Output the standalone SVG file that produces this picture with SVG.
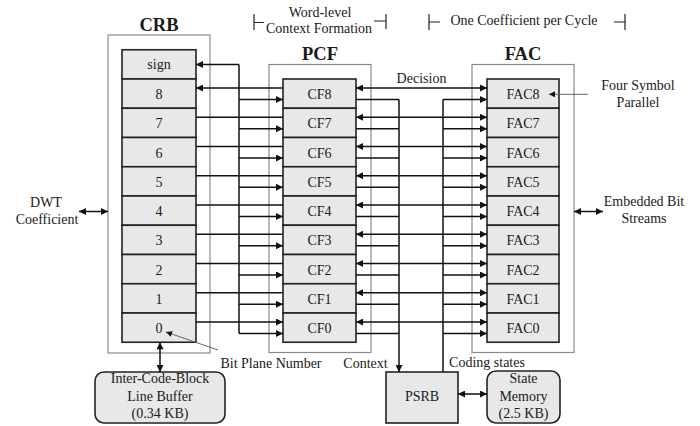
<svg xmlns="http://www.w3.org/2000/svg" width="700" height="426" viewBox="0 0 700 426">
<defs>
<style>
text{font-family:"Liberation Serif","Times New Roman",serif;fill:#1a1a1a;font-size:14px;text-anchor:middle}
.title{font-size:18.5px;font-weight:bold}
.outer{fill:none;stroke:#8a8a8a;stroke-width:1.2}
.cell{fill:#e8e8e8;stroke:#222;stroke-width:1.6}
.rbox{fill:#e8e8e8;stroke:#222;stroke-width:1.6}
.c{fill:none;stroke:#111;stroke-width:1.5}
.a2{marker-start:url(#ah);marker-end:url(#ah)}
.a1{marker-end:url(#ah)}
.note{fill:none;stroke:#666;stroke-width:1;marker-end:url(#sah)}
.br{fill:none;stroke:#222;stroke-width:1.2}
</style>
<marker id="ah" viewBox="0 0 10 10" refX="10" refY="5" markerWidth="8" markerHeight="7" markerUnits="userSpaceOnUse" orient="auto-start-reverse"><path d="M0,0 L10,5 L0,10 z" fill="#111"/></marker>
<marker id="sah" viewBox="0 0 10 10" refX="10" refY="5" markerWidth="7" markerHeight="6" markerUnits="userSpaceOnUse" orient="auto"><path d="M0,0 L10,5 L0,10 z" fill="#111"/></marker>
</defs>
<rect width="700" height="426" fill="#fff"/>

<g id="headers">
<text x="320" y="17">Word-level</text>
<text x="319" y="33">Context Formation</text>
<path class="br" d="M254,14 V30 M254,22.5 H264 M374,21 H386 M386,14 V29"/>
<text x="524" y="25">One Coefficient per Cycle</text>
<path class="br" d="M429,14 V30 M429,22 H440 M614,22 H625 M625,14 V30"/>
</g>

<g id="crb">
<rect class="outer" x="108" y="35" width="102" height="318"/>
<text class="title" x="159" y="31">CRB</text>
<g id="crb-sign"><rect class="cell" x="122" y="49.75" width="74" height="29.25"/><text x="159" y="69">sign</text></g>
<g id="crb-8"><rect class="cell" x="122" y="79" width="74" height="29.25"/><text x="159" y="99">8</text></g>
<g id="crb-7"><rect class="cell" x="122" y="108.25" width="74" height="29.25"/><text x="159" y="128.25">7</text></g>
<g id="crb-6"><rect class="cell" x="122" y="137.5" width="74" height="29.25"/><text x="159" y="157.5">6</text></g>
<g id="crb-5"><rect class="cell" x="122" y="166.75" width="74" height="29.25"/><text x="159" y="186.75">5</text></g>
<g id="crb-4"><rect class="cell" x="122" y="196" width="74" height="29.25"/><text x="159" y="216">4</text></g>
<g id="crb-3"><rect class="cell" x="122" y="225.25" width="74" height="29.25"/><text x="159" y="245.25">3</text></g>
<g id="crb-2"><rect class="cell" x="122" y="254.5" width="74" height="29.25"/><text x="159" y="274.5">2</text></g>
<g id="crb-1"><rect class="cell" x="122" y="283.75" width="74" height="29.25"/><text x="159" y="303.75">1</text></g>
<g id="crb-0"><rect class="cell" x="122" y="313" width="74" height="29.25"/><text x="159" y="333">0</text></g>
</g>

<g id="pcf">
<rect class="outer" x="269" y="64.5" width="102" height="288"/>
<text class="title" x="320" y="60">PCF</text>
<g id="cf8"><rect class="cell" x="283" y="79" width="73" height="29.25"/><text x="319.5" y="99">CF8</text></g>
<g id="cf7"><rect class="cell" x="283" y="108.25" width="73" height="29.25"/><text x="319.5" y="128.25">CF7</text></g>
<g id="cf6"><rect class="cell" x="283" y="137.5" width="73" height="29.25"/><text x="319.5" y="157.5">CF6</text></g>
<g id="cf5"><rect class="cell" x="283" y="166.75" width="73" height="29.25"/><text x="319.5" y="186.75">CF5</text></g>
<g id="cf4"><rect class="cell" x="283" y="196" width="73" height="29.25"/><text x="319.5" y="216">CF4</text></g>
<g id="cf3"><rect class="cell" x="283" y="225.25" width="73" height="29.25"/><text x="319.5" y="245.25">CF3</text></g>
<g id="cf2"><rect class="cell" x="283" y="254.5" width="73" height="29.25"/><text x="319.5" y="274.5">CF2</text></g>
<g id="cf1"><rect class="cell" x="283" y="283.75" width="73" height="29.25"/><text x="319.5" y="303.75">CF1</text></g>
<g id="cf0"><rect class="cell" x="283" y="313" width="73" height="29.25"/><text x="319.5" y="333">CF0</text></g>
</g>

<g id="fac">
<rect class="outer" x="472" y="64.5" width="102" height="288"/>
<text class="title" x="523" y="60">FAC</text>
<g id="fac8"><rect class="cell" x="487" y="79" width="72" height="29.25"/><text x="523" y="99">FAC8</text></g>
<g id="fac7"><rect class="cell" x="487" y="108.25" width="72" height="29.25"/><text x="523" y="128.25">FAC7</text></g>
<g id="fac6"><rect class="cell" x="487" y="137.5" width="72" height="29.25"/><text x="523" y="157.5">FAC6</text></g>
<g id="fac5"><rect class="cell" x="487" y="166.75" width="72" height="29.25"/><text x="523" y="186.75">FAC5</text></g>
<g id="fac4"><rect class="cell" x="487" y="196" width="72" height="29.25"/><text x="523" y="216">FAC4</text></g>
<g id="fac3"><rect class="cell" x="487" y="225.25" width="72" height="29.25"/><text x="523" y="245.25">FAC3</text></g>
<g id="fac2"><rect class="cell" x="487" y="254.5" width="72" height="29.25"/><text x="523" y="274.5">FAC2</text></g>
<g id="fac1"><rect class="cell" x="487" y="283.75" width="72" height="29.25"/><text x="523" y="303.75">FAC1</text></g>
<g id="fac0"><rect class="cell" x="487" y="313" width="72" height="29.25"/><text x="523" y="333">FAC0</text></g>
</g>

<g id="psrb"><rect class="rbox" x="386" y="372" width="72" height="51"/><text x="422" y="401">PSRB</text></g>
<g id="state-memory"><rect class="rbox" x="487" y="371" width="73" height="52" rx="9"/><text x="523.5" y="383">State</text><text x="523.5" y="401">Memory</text><text x="523.5" y="418">(2.5 KB)</text></g>
<g id="line-buffer"><rect class="rbox" x="95" y="372" width="130" height="51" rx="9"/><text x="160" y="383">Inter-Code-Block</text><text x="160" y="401">Line Buffer</text><text x="160" y="418">(0.34 KB)</text></g>

<g id="io-labels">
<text x="46" y="206.5">DWT</text>
<text x="47" y="224">Coefficient</text>
<text x="644" y="206">Embedded Bit</text>
<text x="644" y="223">Streams</text>
<text x="638" y="90">Four Symbol</text>
<text x="638" y="107">Parallel</text>
<text x="271" y="368">Bit Plane Number</text>
<text x="365.5" y="368">Context</text>
<text x="487" y="367">Coding states</text>
<text x="421.5" y="83">Decision</text>
</g>

<g id="connectors">
<path class="c a1" d="M239,64.4 H196"/>
<path class="c" d="M239,64.4 V333.5"/>
<path class="c a2" d="M196,88 H283 M196,117.25 H283 M196,146.5 H283 M196,175.75 H283 M196,205 H283 M196,234.25 H283 M196,263.5 H283 M196,292.75 H283 M196,322 H283"/>
<path class="c a1" d="M239,99.5 H283"/><path class="c a1" d="M239,128.75 H283"/><path class="c a1" d="M239,158 H283"/><path class="c a1" d="M239,187.25 H283"/><path class="c a1" d="M239,216.5 H283"/><path class="c a1" d="M239,245.75 H283"/><path class="c a1" d="M239,275 H283"/><path class="c a1" d="M239,304.25 H283"/><path class="c a1" d="M239,333.5 H283"/>
<path class="c a2" d="M356,88 H487"/><path class="c a2" d="M356,117.25 H487"/><path class="c a2" d="M356,146.5 H487"/><path class="c a2" d="M356,175.75 H487"/><path class="c a2" d="M356,205 H487"/><path class="c a2" d="M356,234.25 H487"/><path class="c a2" d="M356,263.5 H487"/><path class="c a2" d="M356,292.75 H487"/><path class="c a2" d="M356,322 H487"/>
<path class="c" d="M356,99.5 H399 M356,128.75 H399 M356,158 H399 M356,187.25 H399 M356,216.5 H399 M356,245.75 H399 M356,275 H399 M356,304.25 H399 M356,333.5 H399"/>
<path class="c a1" d="M399,99.5 V372"/>
<path class="c" d="M443,372 V99.5"/>
<path class="c a1" d="M443,99.5 H487"/><path class="c a1" d="M443,128.75 H487"/><path class="c a1" d="M443,158 H487"/><path class="c a1" d="M443,187.25 H487"/><path class="c a1" d="M443,216.5 H487"/><path class="c a1" d="M443,245.75 H487"/><path class="c a1" d="M443,275 H487"/><path class="c a1" d="M443,304.25 H487"/><path class="c a1" d="M443,333.5 H487"/>
<path class="c a2" d="M79,211.5 H108"/>
<path class="c a2" d="M574,211.5 H603"/>
<path class="c a2" d="M160,342.25 V372"/>
<path class="c a2" d="M458,394 H487"/>
<path class="note" d="M588,94.3 H549"/>
<path class="note" d="M218,350 L166,332"/>
</g>
</svg>
